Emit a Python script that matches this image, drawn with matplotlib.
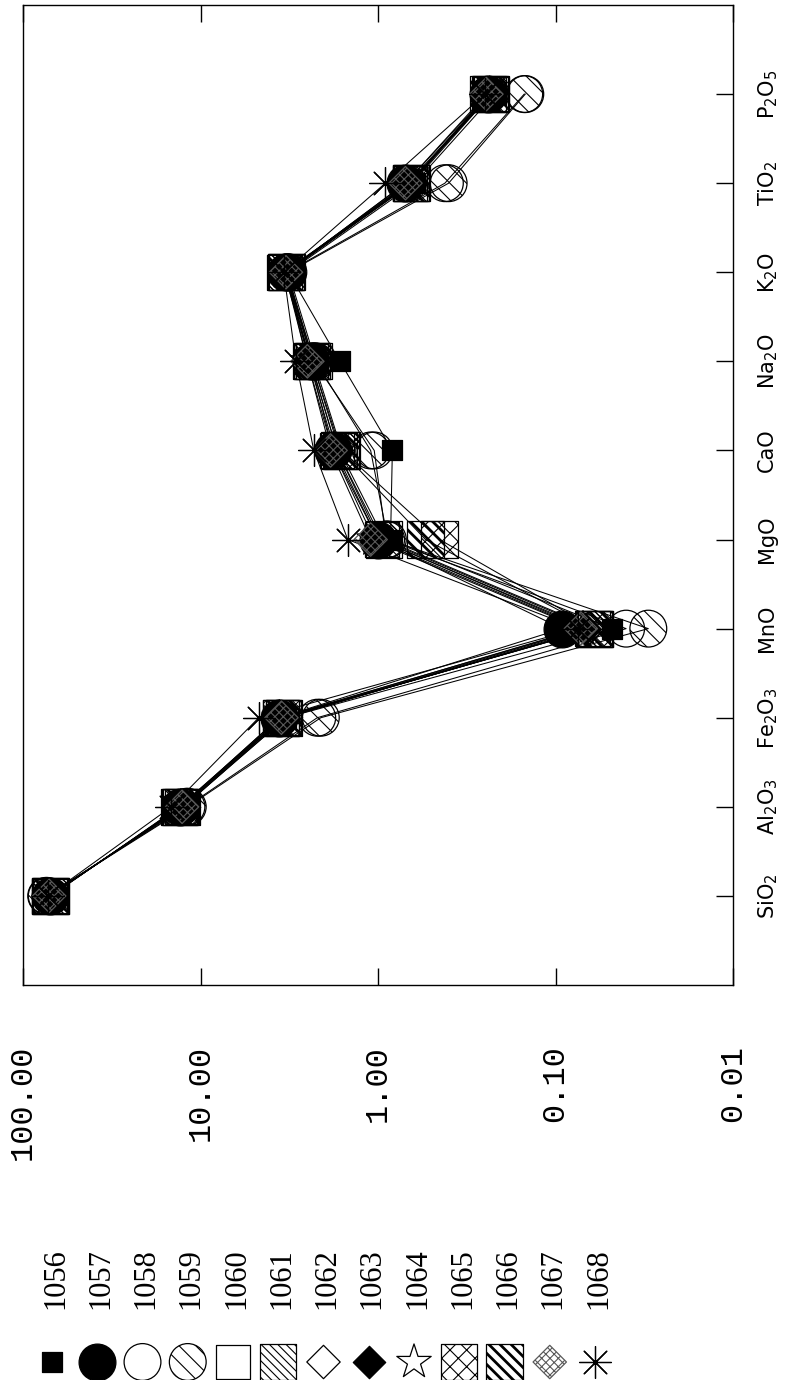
import matplotlib
matplotlib.use("Agg")
import matplotlib.pyplot as plt
import numpy as np

plt.rcParams["mathtext.fontset"] = "dejavusans"

oxides = [r"SiO$_2$", r"Al$_2$O$_3$", r"Fe$_2$O$_3$", "MnO", "MgO", "CaO",
          r"Na$_2$O", r"K$_2$O", r"TiO$_2$", r"P$_2$O$_5$"]
samples = ["1056", "1057", "1058", "1059", "1060", "1061", "1062",
           "1063", "1064", "1065", "1066", "1067", "1068"]

# one value per sample, same order as samples
sio2 = [71.5, 70.2, 74.0, 73.5, 71.0, 70.5, 72.0, 71.8, 70.8, 69.5, 70.0, 71.2, 72.5]
al2o3 = [12.6, 13.0, 12.0, 11.8, 12.7, 12.8, 12.5, 12.4, 12.9, 13.2, 13.1, 12.7, 14.6]
fe2o3 = [3.3, 3.6, 2.2, 2.1, 3.4, 3.5, 3.3, 3.4, 3.6, 3.5, 3.4, 3.5, 4.7]
mno = [0.048, 0.092, 0.040, 0.030, 0.062, 0.060, 0.065, 0.068, 0.070, 0.060, 0.061, 0.072, 0.075]
mgo = [0.85, 1.0, 0.9, 0.88, 0.95, 0.92, 1.0, 0.98, 1.05, 0.45, 0.54, 1.1, 1.48]
cao = [0.83, 1.8, 1.05, 1.1, 1.7, 1.65, 1.75, 1.7, 1.8, 1.6, 1.62, 1.85, 2.3]
na2o = [1.64, 2.4, 2.3, 2.25, 2.4, 2.35, 2.45, 2.4, 2.5, 2.3, 2.35, 2.5, 2.9]
k2o = [3.2, 3.3, 3.25, 3.2, 3.35, 3.3, 3.3, 3.4, 3.35, 3.3, 3.25, 3.3, 3.4]
tio2 = [0.62, 0.70, 0.42, 0.40, 0.66, 0.65, 0.67, 0.66, 0.68, 0.64, 0.65, 0.70, 0.91]
p2o5 = [0.22, 0.24, 0.15, 0.148, 0.23, 0.235, 0.23, 0.24, 0.235, 0.23, 0.24, 0.245, 0.25]

log_ticks = [100, 10, 1, 0.1, 0.01]
log_labels = ["100.00", "10.00", "1.00", "0.10", "0.01"]

# marker styles: marker, size (pt), face, edge, hatch
styles = [
    dict(marker="s", ms=14, fc="black", ec="black", hatch=None),
    dict(marker="o", ms=26.5, fc="black", ec="black", hatch=None),
    dict(marker="o", ms=26.5, fc="none", ec="black", hatch=None),
    dict(marker="o", ms=26.5, fc="none", ec="black", hatch="\\\\"),
    dict(marker="s", ms=25, fc="none", ec="black", hatch=None),
    dict(marker="s", ms=26, fc="none", ec="black", hatch="\\\\\\\\"),
    dict(marker="D", ms=17, fc="none", ec="black", hatch=None),
    dict(marker="D", ms=16.5, fc="black", ec="black", hatch=None),
    dict(marker="*", ms=26, fc="none", ec="black", hatch=None),
    dict(marker="s", ms=26, fc="none", ec="black", hatch="xx"),
    dict(marker="s", ms=26, fc="none", ec="black", hatch="\\\\\\", hlw=2.0),
    dict(marker="D", ms=17, fc="none", ec="0.35", hatch="xxxx"),
    dict(marker=(8, 2, 0), ms=23, fc="black", ec="0.3", hatch=None),
]


def draw_marker(ax, x, y, st, **kw):
    rc = {"hatch.color": st["ec"], "hatch.linewidth": st.get("hlw", 0.8)}
    with plt.rc_context(rc):
        ax.scatter(x, y, s=st["ms"] ** 2, marker=st["marker"],
                   facecolors=st["fc"], edgecolors=st["ec"],
                   hatch=st["hatch"], linewidths=0.9, **kw)


values = np.array([sio2, al2o3, fe2o3, mno, mgo, cao, na2o, k2o, tio2, p2o5])
pos = np.arange(len(oxides))

fig = plt.figure(figsize=(7.89, 13.8), dpi=100)
ax = fig.add_axes([23 / 789, 1 - 985 / 1380, 710 / 789, 980 / 1380])

for i in range(len(samples)):
    ax.plot(values[:, i], pos, color="black", lw=0.75, zorder=2)
for i in range(len(samples)):
    draw_marker(ax, values[:, i], pos, styles[i], zorder=3)

ax.set_xscale("log")
ax.set_xlim(100, 0.01)
ax.set_ylim(-1, 10)
ax.set_xticks(log_ticks)
ax.set_xticklabels(log_labels, rotation=90, va="top", ha="center",
                   family=["Liberation Mono", "DejaVu Sans Mono"], fontsize=23)
ax.xaxis.set_minor_locator(matplotlib.ticker.NullLocator())
ax.tick_params(axis="x", direction="in", length=12, width=1,
               top=True, bottom=True, pad=43)

ax.set_yticks(pos)
ax.set_yticklabels(oxides, rotation=90, va="center", fontsize=15)
ax.yaxis.tick_right()
ax.tick_params(axis="y", direction="in", length=12, width=1,
               left=False, right=True, pad=17)
for sp in ax.spines.values():
    sp.set_linewidth(1.0)

# legend, drawn sideways like the page
leg = fig.add_axes([52 / 789, 0.0, 543 / 789, 150 / 1380])
leg.set_xlim(0, len(samples) - 1)
leg.set_ylim(0, 1)
leg.axis("off")
for i, name in enumerate(samples):
    draw_marker(leg, [i], [0.12], styles[i], clip_on=False)
    leg.text(i + 0.08, 0.673, name, rotation=90, ha="center", va="center",
             family="Liberation Serif", fontsize=22)

fig.savefig("out.png", dpi=100)
